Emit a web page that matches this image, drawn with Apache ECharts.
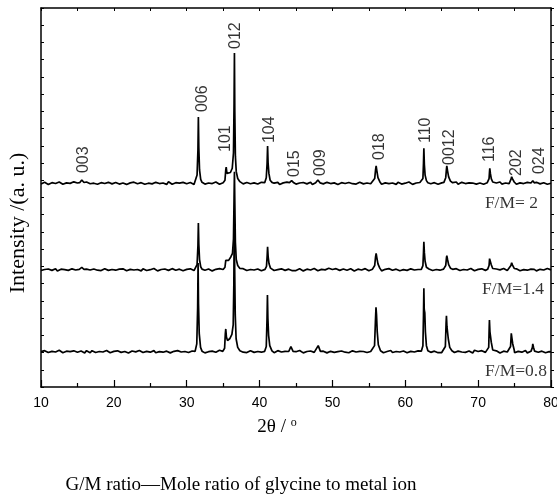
<!DOCTYPE html>
<html><head><meta charset="utf-8">
<script src="https://cdn.jsdelivr.net/npm/echarts@6/dist/echarts.min.js"></script>
<style>html,body{margin:0;padding:0;background:#fff}#chart{width:557px;height:495px}</style>
</head><body><div id="chart"></div>
<script>
// XRD patterns of the three samples, stacked with a vertical offset.
// Baseline readings are stored every 0.25° of 2θ starting at 10° (one row = 5°).
const twoThetaStart = 10;
const twoThetaStep = 0.25;

const baselineFM2 = [
  11.78,11.83,11.88,11.79,11.76,11.82,11.86,11.78,11.81,11.86,11.90,11.81,11.77,11.79,11.85,11.87,11.82,11.75,11.91,11.84,
  11.84,11.76,11.89,11.85,11.79,11.90,11.87,11.80,11.80,11.83,11.88,11.77,11.75,11.86,11.86,11.81,11.81,11.88,11.89,11.79,
  11.77,11.87,11.85,11.78,11.80,11.84,11.90,11.76,11.76,11.85,11.84,11.89,11.87,11.80,11.79,11.86,11.88,11.77,11.74,11.83,
  11.83,11.79,11.89,11.88,11.78,11.81,11.85,11.84,11.81,11.76,11.91,11.85,11.77,11.87,11.86,11.78,11.83,11.84,11.88,11.80,
  11.80,11.86,11.87,11.80,11.76,11.89,11.85,11.77,11.89,11.81,11.78,11.85,11.84,11.78,11.81,11.88,11.90,11.79,11.77,11.87,
  11.85,11.81,11.88,11.86,11.79,11.76,11.84,11.90,11.75,11.84,11.87,11.79,11.82,11.87,11.90,11.80,11.78,11.85,11.85,11.78,
  11.80,11.88,11.89,11.77,11.77,11.83,11.86,11.80,11.83,11.86,11.88,11.76,11.76,11.85,11.85,11.89,11.81,11.81,11.90,11.84,
  11.78,11.78,11.84,11.87,11.87,11.80,11.79,11.85,11.89,11.75,11.76,11.86,11.83,11.83,11.86,11.79,11.80,11.88,11.91,11.81,
  11.77,11.85,11.85,11.76,11.81,11.86,11.88,11.81,11.78,11.87,11.84,11.80,11.90,11.78,11.79,11.89,11.87,11.79,11.75,11.84,
  11.84,11.80,11.88,11.86,11.80,11.88,11.86,11.77,11.77,11.85,11.89,11.81,11.81,11.84,11.85,11.76,11.88,11.87,11.78,11.83,
  11.83,11.87,11.90,11.79,11.76,11.84,11.84,11.89,11.87,11.78,11.79,11.83,11.89,11.80,11.80,11.86,11.86,11.76,11.77,11.85,
  11.85,11.79,11.88,11.83,11.78,11.87,11.83,11.80,11.90,11.77,11.80,11.88,11.87,11.81,11.76,11.85,11.85,11.84,11.89,11.78,
  11.79,11.84,11.86,11.77,11.81,11.86,11.88,11.83,11.77,11.79,11.84,11.89,11.90,11.78,11.78,11.84,11.85,11.81,11.76,11.87,
  11.84,11.77,11.87,11.85,11.80,11.81,11.89,11.88,11.78,11.84,11.83,11.78,11.88,11.87,11.79,11.80,11.86,11.86,11.77,11.83,
  11.83
];
const baselineFM14 = [
  6.76,6.76,6.82,6.85,6.85,6.78,6.77,6.83,6.87,6.73,6.74,6.84,6.81,6.81,6.84,6.77,6.78,6.86,6.89,6.79,
  6.75,6.83,6.83,6.74,6.79,6.84,6.86,6.79,6.76,6.85,6.82,6.78,6.88,6.76,6.77,6.87,6.85,6.77,6.73,6.82,
  6.82,6.78,6.86,6.84,6.78,6.86,6.84,6.75,6.75,6.83,6.87,6.79,6.79,6.82,6.83,6.74,6.86,6.85,6.76,6.81,
  6.81,6.85,6.88,6.77,6.74,6.82,6.82,6.87,6.85,6.76,6.77,6.81,6.87,6.78,6.78,6.84,6.84,6.74,6.75,6.83,
  6.83,6.77,6.86,6.81,6.76,6.85,6.81,6.78,6.88,6.75,6.78,6.86,6.85,6.79,6.74,6.83,6.83,6.82,6.87,6.76,
  6.77,6.82,6.84,6.75,6.79,6.84,6.86,6.81,6.75,6.77,6.82,6.87,6.88,6.76,6.76,6.82,6.83,6.79,6.74,6.85,
  6.82,6.75,6.85,6.83,6.78,6.79,6.87,6.86,6.76,6.82,6.81,6.76,6.86,6.85,6.77,6.78,6.84,6.84,6.75,6.81,
  6.76,6.81,6.86,6.77,6.74,6.80,6.84,6.76,6.79,6.84,6.88,6.79,6.75,6.77,6.83,6.85,6.80,6.73,6.89,6.82,
  6.82,6.74,6.87,6.83,6.77,6.88,6.85,6.78,6.78,6.81,6.86,6.75,6.73,6.84,6.84,6.79,6.79,6.86,6.87,6.77,
  6.75,6.85,6.83,6.76,6.78,6.82,6.88,6.74,6.74,6.83,6.82,6.87,6.85,6.78,6.77,6.84,6.86,6.75,6.72,6.81,
  6.81,6.77,6.87,6.86,6.76,6.79,6.83,6.82,6.79,6.74,6.89,6.83,6.75,6.85,6.84,6.76,6.81,6.82,6.86,6.78,
  6.78,6.84,6.85,6.78,6.74,6.87,6.83,6.75,6.87,6.79,6.76,6.83,6.82,6.76,6.79,6.86,6.88,6.77,6.75,6.85,
  6.83,6.79,6.86,6.84,6.77,6.74,6.82,6.88,6.73,6.82,6.85,6.77,6.80,6.85,6.88,6.78,6.76,6.83,6.83,6.76,
  6.78,6.86,6.87,6.75,6.75,6.81,6.84,6.78,6.81,6.84,6.86,6.74,6.74,6.83,6.83,6.87,6.79,6.79,6.88,6.82,
  6.80
];
const baselineFM08 = [
  2.05,2.01,2.11,2.10,2.00,2.03,2.07,2.06,2.03,1.98,2.13,2.07,1.99,2.09,2.08,2.00,2.05,2.06,2.10,2.02,
  2.02,2.08,2.09,2.02,1.98,2.11,2.07,1.99,2.11,2.03,2.00,2.07,2.06,2.00,2.03,2.10,2.12,2.01,1.99,2.09,
  2.07,2.03,2.10,2.08,2.01,1.98,2.06,2.12,1.97,2.06,2.09,2.01,2.04,2.09,2.12,2.02,2.00,2.07,2.07,2.00,
  2.02,2.10,2.11,1.99,1.99,2.05,2.08,2.02,2.05,2.08,2.10,1.98,1.98,2.07,2.07,2.11,2.03,2.03,2.12,2.06,
  2.00,2.00,2.06,2.09,2.09,2.02,2.01,2.07,2.11,1.97,1.98,2.08,2.05,2.05,2.08,2.01,2.02,2.10,2.13,2.03,
  1.99,2.07,2.07,1.98,2.03,2.08,2.10,2.03,2.00,2.09,2.06,2.02,2.12,2.00,2.01,2.11,2.09,2.01,1.97,2.06,
  2.06,2.02,2.10,2.08,2.02,2.10,2.08,1.99,1.99,2.07,2.11,2.03,2.03,2.06,2.07,1.98,2.10,2.09,2.00,2.05,
  2.05,2.09,2.12,2.01,1.98,2.06,2.06,2.11,2.09,2.00,2.01,2.05,2.11,2.02,2.02,2.08,2.08,1.98,1.99,2.07,
  2.07,2.01,2.10,2.05,2.00,2.09,2.05,2.02,2.12,1.99,2.02,2.10,2.09,2.03,1.98,2.07,2.07,2.06,2.11,2.00,
  2.01,2.06,2.08,1.99,2.03,2.08,2.10,2.05,1.99,2.01,2.06,2.11,2.12,2.00,2.00,2.06,2.07,2.03,1.98,2.09,
  2.06,1.99,2.09,2.07,2.02,2.03,2.11,2.10,2.00,2.06,2.05,2.00,2.10,2.09,2.01,2.02,2.08,2.08,1.99,2.05,
  2.00,2.05,2.10,2.01,1.98,2.04,2.08,2.00,2.03,2.08,2.12,2.03,1.99,2.01,2.07,2.09,2.04,1.97,2.13,2.06,
  2.06,1.98,2.11,2.07,2.01,2.12,2.09,2.02,2.02,2.05,2.10,1.99,1.97,2.08,2.08,2.03,2.03,2.10,2.11,2.01,
  1.99,2.09,2.07,2.00,2.02,2.06,2.12,1.98,1.98,2.07,2.06,2.11,2.09,2.02,2.01,2.08,2.10,1.99,1.96,2.05,
  2.04
];

// Reflection profiles [2θ, intensity], one group per peak
const peaksFM2 = [
  [[15.3,11.86],[15.6,12.02],[15.9,11.87]],
  [[31.2,11.86],[31.42,12.3],[31.54,13.75],[31.6,15.67],[31.66,13.9],[31.76,12.6],[31.92,12.05],[32.1,11.88]],
  [[35.0,11.86],[35.25,12.0],[35.36,12.6],[35.42,12.77],[35.52,12.4],[35.7,12.3],[36.0,12.45],[36.25,12.7],[36.42,13.6],[36.5,16.5],[36.55,19.39],[36.6,16.0],[36.68,13.4],[36.8,12.5],[37.0,12.1],[37.3,11.92]],
  [[40.7,11.86],[40.92,12.15],[41.03,12.95],[41.1,13.99],[41.17,13.0],[41.28,12.4],[41.45,12.0],[41.7,11.88]],
  [[44.1,11.86],[44.4,11.98],[44.7,11.85]],
  [[47.7,11.86],[48.0,12.02],[48.3,11.85]],
  [[55.5,11.88],[55.8,12.1],[55.92,12.6],[56.0,12.83],[56.1,12.55],[56.25,12.15],[56.5,11.92]],
  [[62.2,11.86],[62.42,12.1],[62.5,13.0],[62.55,13.86],[62.62,12.9],[62.72,12.3],[62.9,11.98],[63.1,11.86]],
  [[65.3,11.88],[65.55,12.15],[65.65,12.65],[65.7,12.83],[65.8,12.55],[65.95,12.2],[66.2,11.95],[66.5,11.86]],
  [[71.3,11.86],[71.5,12.1],[71.57,12.55],[71.6,12.69],[71.68,12.4],[71.8,12.1],[72.0,11.9]],
  [[74.3,11.86],[74.5,12.05],[74.6,12.2],[74.72,12.08],[74.95,11.9]],
  [[77.3,11.84],[77.5,11.97],[77.7,11.85]]
];
const peaksFM14 = [
  [[15.3,6.82],[15.6,6.94],[15.9,6.83]],
  [[31.2,6.82],[31.42,7.1],[31.54,8.2],[31.6,9.52],[31.66,8.3],[31.76,7.4],[31.92,6.98],[32.1,6.84]],
  [[35.0,6.82],[35.25,6.95],[35.36,7.35],[35.42,7.43],[35.55,7.3],[35.75,7.35],[36.05,7.55],[36.28,7.75],[36.42,8.6],[36.5,11.0],[36.55,12.5],[36.6,10.8],[36.68,8.4],[36.8,7.4],[37.0,7.05],[37.3,6.88]],
  [[40.75,6.83],[40.95,7.0],[41.04,7.6],[41.1,8.14],[41.18,7.55],[41.3,7.15],[41.5,6.9],[41.7,6.83]],
  [[55.5,6.84],[55.8,7.05],[55.92,7.55],[56.0,7.76],[56.1,7.5],[56.25,7.15],[56.5,6.9]],
  [[62.2,6.83],[62.42,7.05],[62.5,7.8],[62.55,8.43],[62.62,7.8],[62.72,7.3],[62.9,6.95],[63.1,6.84]],
  [[65.3,6.84],[65.55,7.05],[65.65,7.5],[65.7,7.62],[65.8,7.4],[65.95,7.1],[66.2,6.9],[66.5,6.83]],
  [[71.3,6.83],[71.5,7.05],[71.57,7.45],[71.6,7.56],[71.68,7.35],[71.8,7.1],[72.0,6.88]],
  [[74.3,6.83],[74.5,7.05],[74.6,7.21],[74.72,7.08],[74.95,6.88]],
  [[77.3,6.82],[77.5,6.95],[77.7,6.83]]
];
const peaksFM08 = [
  [[31.15,2.07],[31.38,2.5],[31.5,4.6],[31.56,7.2],[31.62,4.8],[31.72,3.1],[31.9,2.3],[32.1,2.08]],
  [[34.95,2.07],[35.2,2.25],[35.3,3.1],[35.36,3.37],[35.45,2.9],[35.6,2.7],[35.9,2.8],[36.2,3.05],[36.38,3.6],[36.47,6.0],[36.52,9.5],[36.58,7.0],[36.66,4.2],[36.78,2.8],[37.0,2.3],[37.3,2.1]],
  [[40.7,2.07],[40.92,2.35],[41.02,3.9],[41.08,5.34],[41.14,4.0],[41.24,3.0],[41.4,2.4],[41.7,2.1]],
  [[44.0,2.06],[44.3,2.34],[44.6,2.07]],
  [[47.75,2.06],[48.05,2.4],[48.35,2.07]],
  [[55.5,2.1],[55.78,2.4],[55.9,3.8],[55.98,4.63],[56.05,4.2],[56.15,3.2],[56.3,2.45],[56.6,2.1]],
  [[62.2,2.08],[62.42,2.4],[62.5,4.2],[62.55,5.73],[62.6,4.5],[62.68,4.3],[62.76,3.2],[62.9,2.4],[63.1,2.1]],
  [[65.25,2.08],[65.5,2.35],[65.6,3.7],[65.65,4.14],[65.72,3.5],[65.8,3.4],[65.9,2.8],[66.1,2.3],[66.4,2.1]],
  [[71.25,2.07],[71.45,2.3],[71.52,3.5],[71.55,3.89],[71.62,3.2],[71.7,3.1],[71.8,2.6],[72.0,2.15]],
  [[74.25,2.07],[74.45,2.35],[74.55,3.12],[74.65,2.8],[74.75,2.5],[74.95,2.15]],
  [[77.3,2.06],[77.45,2.3],[77.5,2.5],[77.6,2.3],[77.75,2.08]]
];

// hkl indices and where each index is written (2θ, intensity at text start)
const hklNames = ['003','006','101','012','104','015','009','018','110','0012','116','202','024'];
const hklAt = [[15.88,12.42],[32.21,15.96],[35.37,13.64],[36.74,19.62],[41.41,14.16],[44.84,12.19],
               [48.41,12.25],[56.51,13.18],[62.82,14.16],[66.11,12.89],[71.6,13.06],[75.31,12.25],[78.47,12.36]];

// Sample names and their anchor (right edge)
const sampleNames = ['F/M= 2','F/M=1.4','F/M=0.8'];
const sampleAt = [[78.22,10.68],[79.04,5.69],[79.45,0.93]];

const xMin = 10, xMax = 80, xStep = 10;
const yMin = 0, yMax = 22, yStep = 1;

function buildTrace(baseline, peaks) {
  const pts = [];
  baseline.forEach((v, i) => {
    const x = twoThetaStart + i * twoThetaStep;
    const inPeak = peaks.some(g => x >= g[0][0] && x <= g[g.length - 1][0]);
    if (!inPeak) pts.push([x, v]);
  });
  peaks.forEach(g => g.forEach(p => pts.push(p)));
  pts.sort((a, b) => a[0] - b[0]);
  return pts;
}

const SANS = 'Liberation Sans, Arial, sans-serif';
const SERIF = 'Liberation Serif, Times New Roman, serif';
const INK = '#000';

const traceStyle = { type: 'line', showSymbol: false, symbol: 'none', animation: false,
  lineStyle: { color: INK, width: 1.7 }, z: 3 };

const chart = echarts.init(document.getElementById('chart'), null, { renderer: 'canvas' });
chart.setOption({
  backgroundColor: '#fff',
  animation: false,
  grid: { left: 41, right: 6, top: 8, bottom: 108, outerBoundsMode: 'none', containLabel: false },
  xAxis: [
    { type: 'value', position: 'bottom', min: xMin, max: xMax, interval: xStep,
      axisLine: { show: true, onZero: false, lineStyle: { color: INK, width: 1.5 } },
      axisTick: { show: true, inside: true, length: 7, lineStyle: { color: INK, width: 1.2 } },
      minorTick: { show: true, splitNumber: 2, length: 4, lineStyle: { color: INK, width: 1.2 } },
      axisLabel: { margin: 9, color: INK, fontFamily: SANS, fontSize: 14 },
      splitLine: { show: false } },
    { type: 'value', position: 'top', min: xMin, max: xMax, interval: 5,
      axisLine: { show: true, onZero: false, lineStyle: { color: INK, width: 1.5 } },
      axisTick: { show: true, inside: true, length: 3, lineStyle: { color: INK, width: 1 } },
      axisLabel: { show: false }, splitLine: { show: false } }
  ],
  yAxis: [
    { type: 'value', position: 'left', min: yMin, max: yMax, interval: yStep,
      axisLine: { show: true, onZero: false, lineStyle: { color: INK, width: 1.5 } },
      axisTick: { show: true, inside: true, length: 3, lineStyle: { color: INK, width: 1 } },
      axisLabel: { show: false }, splitLine: { show: false } },
    { type: 'value', position: 'right', min: yMin, max: yMax, interval: yStep,
      axisLine: { show: true, onZero: false, lineStyle: { color: INK, width: 1.5 } },
      axisTick: { show: true, inside: false, length: 3, lineStyle: { color: INK, width: 1 } },
      axisLabel: { show: false }, splitLine: { show: false } }
  ],
  graphic: [
    { type: 'text', x: 18, y: 223, rotation: Math.PI / 2,
      style: { text: 'Intensity /(a. u.)', font: '22px ' + SERIF, fill: INK,
               textAlign: 'center', textVerticalAlign: 'middle' } },
    { type: 'text', x: 277, y: 427,
      style: { text: '{m|2θ / }{s|o}', fill: INK, textAlign: 'center', textVerticalAlign: 'middle',
               rich: { m: { fontFamily: SERIF, fontSize: 19, fill: INK },
                       s: { fontFamily: SERIF, fontSize: 12, fill: INK, verticalAlign: 'top', padding: [0, 0, 9, 0] } } } },
    { type: 'text', x: 241, y: 485,
      style: { text: 'G/M ratio—Mole ratio of glycine to metal ion', font: '19px ' + SERIF, fill: INK,
               textAlign: 'center', textVerticalAlign: 'middle' } }
  ],
  series: [
    Object.assign({ name: sampleNames[0], data: buildTrace(baselineFM2, peaksFM2) }, traceStyle),
    Object.assign({ name: sampleNames[1], data: buildTrace(baselineFM14, peaksFM14) }, traceStyle),
    Object.assign({ name: sampleNames[2], data: buildTrace(baselineFM08, peaksFM08) }, traceStyle),
    { type: 'scatter', symbolSize: 1, itemStyle: { color: 'rgba(0,0,0,0)' }, z: 4, silent: true,
      data: hklAt.map((p, i) => ({ value: p, name: hklNames[i] })),
      label: { show: true, formatter: '{b}', position: 'inside', rotate: 90, align: 'left',
               verticalAlign: 'middle', color: INK, fontFamily: SANS, fontSize: 16 } },
    { type: 'scatter', symbolSize: 1, itemStyle: { color: 'rgba(0,0,0,0)' }, z: 4, silent: true,
      data: sampleAt.map((p, i) => ({ value: p, name: sampleNames[i] })),
      label: { show: true, formatter: '{b}', position: 'inside', align: 'right',
               verticalAlign: 'middle', color: INK, fontFamily: SERIF, fontSize: 17.5 } }
  ]
});
</script>
</body></html>
